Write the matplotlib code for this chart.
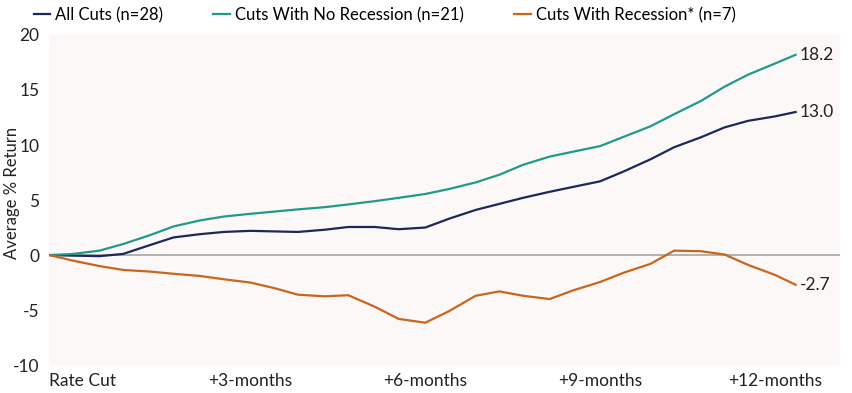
import matplotlib.pyplot as plt
import numpy as np

plt.rcParams['font.family'] = ['Lato', 'DejaVu Sans']
plt.rcParams['axes.unicode_minus'] = False

# trading days after the rate cut
days = [0, 8, 17, 25, 34, 42, 51, 59, 68, 76, 84, 93, 101, 110, 118, 127,
        135, 144, 152, 160, 169, 177, 186, 194, 203, 211, 220, 228, 236, 245, 252]

all_cuts = [0, -0.05, -0.1, 0.1, 0.9, 1.6, 1.9, 2.1, 2.2, 2.15, 2.1, 2.3, 2.55, 2.55, 2.35, 2.5,
            3.3, 4.1, 4.65, 5.2, 5.75, 6.2, 6.7, 7.6, 8.7, 9.8, 10.7, 11.6, 12.2, 12.6, 13.0]
no_recession = [0, 0.1, 0.4, 1.0, 1.8, 2.6, 3.15, 3.5, 3.75, 3.95, 4.15, 4.35, 4.6, 4.9, 5.2, 5.55,
                6.0, 6.6, 7.3, 8.2, 8.95, 9.4, 9.9, 10.75, 11.7, 12.8, 14.0, 15.3, 16.4, 17.4, 18.2]
recession = [0, -0.5, -1.0, -1.35, -1.5, -1.7, -1.9, -2.2, -2.5, -3.0, -3.6, -3.75, -3.65, -4.7, -5.8, -6.15,
             -5.1, -3.7, -3.3, -3.7, -4.0, -3.2, -2.45, -1.6, -0.8, 0.4, 0.35, 0.05, -0.9, -1.8, -2.7]

tick_pos = [0, 68, 127, 186, 245]
tick_labels = ['Rate Cut', '+3-months', '+6-months', '+9-months', '+12-months']

navy = '#1c2858'
teal = '#1f9b88'
orange = '#c8661e'

fig = plt.figure(figsize=(8.52, 3.93), dpi=100)
ax = fig.add_axes([0.0575, 0.071, 0.9285, 0.84])
ax.set_facecolor('#fdf8f8')

ax.axhline(0, color='#a6a6a6', lw=1.2, zorder=1)
ax.plot(days, all_cuts, color=navy, lw=1.6, label='All Cuts (n=28)', zorder=3)
ax.plot(days, no_recession, color=teal, lw=1.6, label='Cuts With No Recession (n=21)', zorder=3)
ax.plot(days, recession, color=orange, lw=1.6, label='Cuts With Recession* (n=7)', zorder=3)

for vals in [all_cuts, no_recession, recession]:
    ax.text(days[-1] + 1.5, vals[-1], f'{vals[-1]:.1f}', va='center', ha='left', fontsize=12.5, color='#222222')

ax.set_xlim(0, 267)
ax.set_ylim(-10, 20)
ax.set_yticks(np.arange(-10, 21, 5))
ax.set_xticks(tick_pos)
ax.set_xticklabels(tick_labels)
ax.get_xticklabels()[0].set_ha('left')
ax.tick_params(length=0, labelsize=12.5, colors='#222222')
ax.tick_params(axis='y', pad=7)
ax.tick_params(axis='x', pad=6)
for s in ax.spines.values():
    s.set_visible(False)
ax.set_ylabel('Average % Return', fontsize=12, color='#222222')
ax.yaxis.set_label_coords(-0.037, 0.52)

fig.legend(loc='upper left', bbox_to_anchor=(0.022, 1.02), ncol=3, frameon=False,
           fontsize=12, handlelength=1.0, handletextpad=0.3, columnspacing=3.0)

plt.savefig('out.png', dpi=100)
